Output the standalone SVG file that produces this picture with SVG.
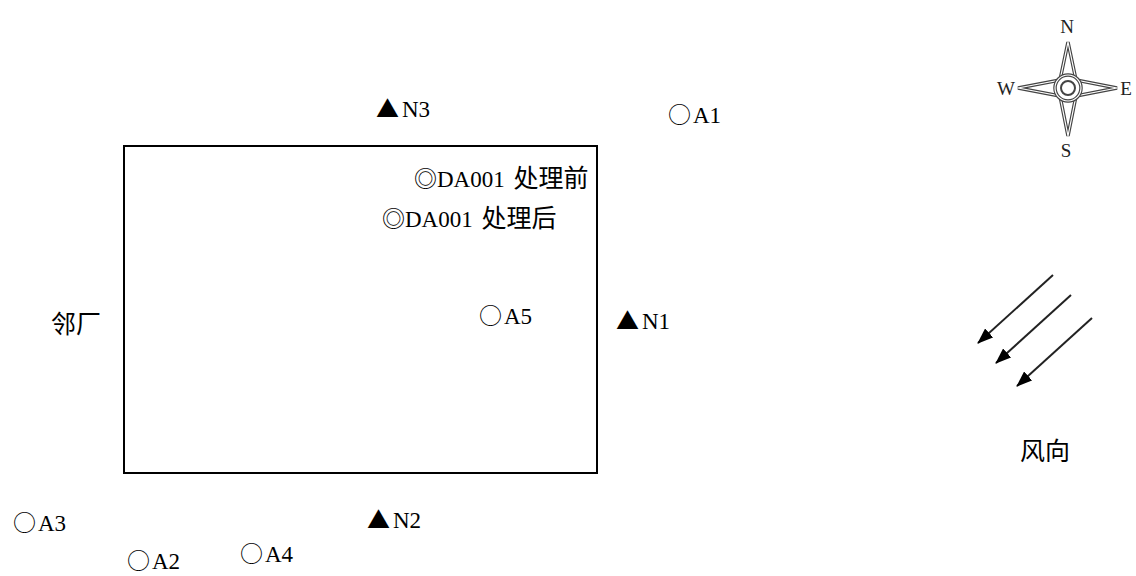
<svg xmlns="http://www.w3.org/2000/svg" width="1136" height="576" viewBox="0 0 1136 576">
<defs>
<style>
.t{font-family:"Liberation Serif","Noto Sans CJK SC",serif;font-size:23px;fill:#000}
.s{font-family:"Noto Sans CJK SC",sans-serif;font-size:23px}
.z{font-family:"Noto Sans CJK SC",sans-serif;font-size:25px}
.c{font-family:"Noto Sans CJK SC",sans-serif;font-size:25px;fill:#000}
.cl{font-family:"Liberation Serif",serif;font-size:19px;fill:#222}
.st{fill:none;stroke:#444;stroke-width:3.5;stroke-linejoin:miter}
.sw{fill:none;stroke:#fff;stroke-width:1.2}
.wl{stroke:#222;stroke-width:2;fill:none}
</style>
<marker id="ah" viewBox="0 0 16 12" refX="15" refY="6" markerWidth="16" markerHeight="12" orient="auto" markerUnits="userSpaceOnUse">
<path d="M0,0 L16,6 L0,12 z" fill="#000"/>
</marker>
</defs>
<rect width="1136" height="576" fill="#fff"/>
<g id="plant"><rect x="124" y="146" width="473" height="327" fill="none" stroke="#000" stroke-width="2"/></g>
<g id="N3"><text class="t" x="376" y="117"><tspan class="s">▲</tspan><tspan dx="3">N3</tspan></text></g>
<g id="A1"><text class="t" x="668" y="123"><tspan class="s">○</tspan><tspan dx="2">A1</tspan></text></g>
<g id="DA001a"><text class="t" x="414" y="187"><tspan class="s">◎</tspan>DA001 <tspan class="z" dx="3">处理前</tspan></text></g>
<g id="DA001b"><text class="t" x="382" y="227"><tspan class="s">◎</tspan>DA001 <tspan class="z" dx="3">处理后</tspan></text></g>
<g id="A5"><text class="t" x="479" y="324"><tspan class="s">○</tspan><tspan dx="2">A5</tspan></text></g>
<g id="N1"><text class="t" x="616" y="329"><tspan class="s">▲</tspan><tspan dx="3">N1</tspan></text></g>
<g id="neighbor"><text class="c" x="51" y="333">邻厂</text></g>
<g id="A3"><text class="t" x="13" y="531"><tspan class="s">○</tspan><tspan dx="2">A3</tspan></text></g>
<g id="A2"><text class="t" x="127" y="569"><tspan class="s">○</tspan><tspan dx="2">A2</tspan></text></g>
<g id="A4"><text class="t" x="240" y="562"><tspan class="s">○</tspan><tspan dx="2">A4</tspan></text></g>
<g id="N2"><text class="t" x="367" y="528"><tspan class="s">▲</tspan><tspan dx="3">N2</tspan></text></g>
<g id="compass">
<path class="st" d="M1068,42 L1076,80 L1117,88 L1076,96 L1068,136 L1060,96 L1018,88 L1060,80 Z"/>
<path class="sw" d="M1068,42 L1076,80 L1117,88 L1076,96 L1068,136 L1060,96 L1018,88 L1060,80 Z"/>
<circle cx="1068" cy="88" r="13" fill="#fff" stroke="#444" stroke-width="3.5"/>
<circle cx="1068" cy="88" r="13" fill="none" stroke="#fff" stroke-width="1.2"/>
<circle cx="1068" cy="88" r="7" fill="none" stroke="#444" stroke-width="2"/>
<text class="cl" x="1067" y="33" text-anchor="middle">N</text>
<text class="cl" x="1006" y="95" text-anchor="middle">W</text>
<text class="cl" x="1126" y="95" text-anchor="middle">E</text>
<text class="cl" x="1066" y="157" text-anchor="middle">S</text>
</g>
<g id="connectors">
<line class="wl" x1="1053" y1="275" x2="978" y2="343" marker-end="url(#ah)"/>
<line class="wl" x1="1071" y1="295" x2="996" y2="363" marker-end="url(#ah)"/>
<line class="wl" x1="1092" y1="318" x2="1017" y2="386" marker-end="url(#ah)"/>
</g>
<g id="wind"><text class="c" x="1020" y="460">风向</text></g>
</svg>
